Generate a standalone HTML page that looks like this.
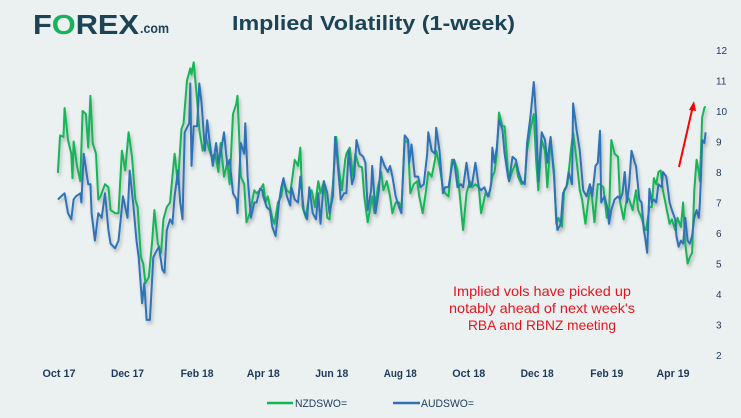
<!DOCTYPE html>
<html><head><meta charset="utf-8">
<style>
html,body{margin:0;padding:0;background:#ebf0f0;}
svg{display:block;font-family:"Liberation Sans",sans-serif;}
</style></head>
<body>
<svg id="chart" width="741" height="418" viewBox="0 0 741 418" xmlns="http://www.w3.org/2000/svg">
<defs>
<filter id="sh" x="-5%" y="-5%" width="110%" height="120%">
<feDropShadow dx="1.5" dy="3" stdDeviation="1.5" flood-color="#000" flood-opacity="0.25"/>
</filter>
</defs>
<rect x="0" y="0" width="741" height="418" fill="#ebf0f0"/>
<g>
<text x="33" y="34" font-size="28" font-weight="bold" fill="#1d4455" textLength="106" lengthAdjust="spacingAndGlyphs">F<tspan fill="#17b35a">O</tspan>REX</text>
<text x="140" y="33" font-size="14" font-weight="bold" fill="#1d4455" textLength="29" lengthAdjust="spacingAndGlyphs">.com</text>
</g>
<text x="232" y="30" font-size="20" font-weight="bold" fill="#1d4455" textLength="283" lengthAdjust="spacingAndGlyphs">Implied Volatility (1-week)</text>
<g id="yaxis"></g>
<g id="xaxis"></g>
<g id="series" filter="url(#sh)"></g>
<g>
<line x1="679" y1="167" x2="692" y2="110" stroke="#ff0000" stroke-width="2"/>
<polygon points="694,101 689,110 696,111" fill="#ff0000"/>
</g>
<g font-size="14" fill="#e8141c" text-anchor="middle">
<text x="542" y="296" textLength="178" lengthAdjust="spacingAndGlyphs">Implied vols have picked up</text>
<text x="542" y="313" textLength="186" lengthAdjust="spacingAndGlyphs">notably ahead of next week's</text>
<text x="542" y="330" textLength="148" lengthAdjust="spacingAndGlyphs">RBA and RBNZ meeting</text>
</g>
<g>
<g>
<line x1="267" y1="403" x2="293" y2="403" stroke="#12b556" stroke-width="2.5"/>
<text x="295" y="407" font-size="11" fill="#1d3a5a" textLength="52" lengthAdjust="spacingAndGlyphs">NZDSWO=</text>
</g>
<g>
<line x1="393" y1="403" x2="420" y2="403" stroke="#2e72b8" stroke-width="2.5"/>
<text x="421" y="407" font-size="11" fill="#1d3a5a" textLength="53" lengthAdjust="spacingAndGlyphs">AUDSWO=</text>
</g>
</g>
</svg>
<script>
const yTicks = [12,11,10,9,8,7,6,5,4,3,2];
const xTickLabels = ["Oct 17","Dec 17","Feb 18","Apr 18","Jun 18","Aug 18","Oct 18","Dec 18","Feb 19","Apr 19"];
const xTickDays = [0,61,123,182,243,304,365,426,488,547];
const nzdDays = [-1,1,4,5,8,11,12,13,16,19,21,24,26,28,30,33,35,37,41,44,46,50,53,56,59,62,65,68,70,73,75,77,80,83,85,88,91,93,96,99,101,103,106,109,111,114,117,118,120,123,125,128,131,134,136,139,142,144,147,150,152,155,158,159,162,165,167,170,174,176,179,182,184,186,190,192,195,198,200,203,206,208,210,213,215,217,220,223,225,228,231,233,236,239,241,244,247,249,252,255,256,259,262,264,267,270,272,275,279,281,284,287,289,292,295,297,300,303,305,308,311,313,316,319,321,324,327,329,332,335,336,339,342,344,347,350,352,355,358,360,363,366,368,371,374,376,380,383,386,388,390,392,395,397,400,401,404,407,409,412,415,417,420,423,425,427,430,433,435,438,441,443,445,448,450,453,456,458,461,464,466,469,472,474,477,480,482,485,488,490,492,495,498,500,503,506,508,511,514,516,519,522,523,526,528,530,532,534,536,538,541,544,546,549,551,554,556,558,560,562,564,566,568,570,571,573,575,576];
const nzdValues = [7.97,9.2,9.15,10.1,9.05,8.6,7.8,9.0,8.2,7.7,10.0,9.9,8.8,10.5,8.95,8.6,7.1,7.2,7.6,7.5,6.75,6.65,6.65,8.7,8.05,9.3,8.5,7.1,6.85,5.2,5.0,4.35,4.55,5.75,6.75,5.65,5.35,6.45,6.85,7.0,7.85,8.6,7.6,9.4,9.6,11.0,11.4,11.2,11.6,10.35,9.4,8.7,9.15,8.7,8.5,8.6,8.0,8.95,7.85,8.3,7.6,9.9,10.25,10.5,7.85,7.6,6.35,6.65,7.4,7.3,7.4,7.6,7.0,7.2,6.5,6.3,7.0,7.2,7.7,7.4,7.3,7.85,8.4,8.2,8.8,6.85,6.5,7.3,7.4,6.85,7.7,7.3,7.7,6.5,6.45,7.6,9.15,8.2,7.4,8.4,8.6,8.8,7.85,8.6,8.2,8.15,7.2,6.35,7.2,6.65,7.5,8.0,7.4,7.7,7.2,6.65,7.0,7.0,6.75,9.05,8.95,7.3,7.6,7.7,7.2,6.65,7.4,8.0,7.85,8.4,8.7,8.2,7.5,7.3,7.2,8.4,8.4,8.05,6.85,6.1,7.3,7.7,7.5,7.6,7.5,6.65,7.3,7.2,7.85,8.0,8.6,9.95,9.5,9.5,8.0,7.7,8.05,8.3,7.85,7.6,7.7,8.7,9.4,9.9,8.4,7.4,9.05,8.7,7.5,9.05,8.05,6.3,6.5,6.2,7.4,7.6,8.7,9.3,8.4,7.4,7.1,6.3,7.2,7.5,6.35,7.6,7.6,7.5,6.5,6.5,9.05,8.6,8.5,7.0,6.45,7.2,7.1,6.75,7.4,6.75,6.5,6.1,6.1,6.85,6.85,7.8,7.6,8.0,8.05,7.4,6.85,6.3,6.45,6.1,6.5,6.2,7.0,5.65,5.0,5.2,5.35,7.4,8.4,8.0,7.7,9.8,10.1,10.15];
const audDays = [-1,2,5,8,11,13,15,19,20,22,26,28,29,32,35,38,41,44,46,50,53,55,57,61,63,66,69,71,74,76,78,81,84,86,89,92,94,96,99,101,103,106,108,110,112,116,117,118,120,123,125,127,130,132,134,137,140,142,144,147,150,152,155,158,159,162,165,166,168,171,174,176,179,181,182,185,188,190,193,196,198,200,203,206,207,210,213,215,218,221,223,226,229,231,233,236,239,241,244,246,248,251,254,256,258,261,263,265,268,271,273,275,278,279,282,285,287,290,293,295,297,300,303,305,308,311,312,314,317,320,322,325,328,329,332,335,336,339,342,344,347,350,352,355,358,360,363,366,368,371,374,376,379,382,384,385,386,388,390,392,395,397,400,401,404,407,409,412,415,417,420,423,425,427,430,433,435,438,441,443,444,447,449,452,454,457,458,461,464,465,467,470,473,475,478,480,482,483,486,489,490,492,495,498,500,502,504,506,508,510,513,514,517,519,521,522,524,526,528,530,532,534,537,538,541,544,546,549,550,552,554,556,558,560,562,564,566,568,570,571,572,573,575,576];
const audValues = [7.1,7.2,7.3,6.65,6.45,7.1,7.2,7.3,7.0,8.6,7.6,7.6,6.65,5.75,6.65,6.5,7.3,6.1,5.65,5.5,5.75,6.45,7.2,6.5,8.05,7.0,5.75,5.2,3.7,4.35,3.15,3.15,5.2,5.35,5.55,4.8,4.7,6.1,6.45,6.3,7.2,8.05,7.0,6.45,9.3,9.6,10.9,8.2,9.5,9.5,10.9,10.25,8.7,9.7,9.05,8.2,8.95,8.3,8.6,9.3,8.2,8.4,7.3,7.1,6.65,8.95,8.6,9.6,7.85,6.5,7.0,7.0,7.45,7.4,7.2,6.85,6.75,6.2,5.9,7.0,7.5,7.8,7.2,6.9,7.5,7.1,7.0,7.85,6.75,6.45,7.5,6.65,6.45,7.3,6.3,7.7,7.3,6.65,7.2,9.15,8.4,7.1,7.3,7.3,8.7,7.6,7.85,9.05,8.6,8.5,8.3,6.75,7.4,8.2,6.65,7.4,8.5,8.2,8.0,8.2,7.85,7.2,6.85,6.65,9.2,9.05,8.3,8.9,7.85,7.85,7.5,7.6,8.6,9.3,8.7,8.6,9.45,8.7,7.3,7.5,7.5,8.2,8.4,7.5,7.6,7.5,8.3,7.5,7.6,8.3,7.5,7.4,7.5,7.2,7.4,7.6,8.8,8.3,8.8,9.7,9.4,8.6,7.85,7.7,8.5,8.4,8.05,7.7,7.6,8.95,9.8,10.95,9.8,7.7,9.3,9.05,8.3,9.15,7.85,6.5,6.1,6.3,7.3,7.5,8.0,7.6,10.25,9.4,8.7,8.25,7.4,7.2,7.6,7.2,8.2,8.3,9.35,7.0,7.2,6.75,6.3,6.75,7.1,7.2,7.1,7.3,8.0,7.0,7.6,8.7,8.3,8.2,7.1,7.0,6.1,5.9,5.35,7.45,7.0,7.1,7.0,7.6,7.5,8.0,7.85,7.0,6.75,6.45,5.9,5.55,5.75,5.65,6.5,5.75,5.65,5.9,6.5,6.75,6.5,7.0,8.0,9.05,8.95,9.3];

const NS = "http://www.w3.org/2000/svg";
function xScale(d){ return 59 + d * (614 / 547); }
function yScale(v){ return 50 + (12 - v) * 30.5; }
function mk(tag, attrs){ const e = document.createElementNS(NS, tag); for (const k in attrs) e.setAttribute(k, attrs[k]); return e; }

const yg = document.getElementById('yaxis');
yTicks.forEach(function(t){
  const tx = mk('text', {x: 716, y: yScale(t) + 4, 'font-size': 10, fill: '#1d3a5a'});
  tx.textContent = String(t);
  
  
  yg.appendChild(tx);
});
const xg = document.getElementById('xaxis');
xTickLabels.forEach(function(lbl, i){
  const tx = mk('text', {x: xScale(xTickDays[i]), y: 377, 'font-size': 11, 'font-weight': 'bold', fill: '#1d3a5a', 'text-anchor': 'middle', textLength: 33, lengthAdjust: 'spacingAndGlyphs'});
  tx.textContent = lbl;
  
  
  xg.appendChild(tx);
});
function linePath(days, vals){
  return days.map(function(d, i){ return (i ? 'L' : 'M') + xScale(d).toFixed(1) + ',' + yScale(vals[i]).toFixed(1); }).join('');
}
const sg = document.getElementById('series');
const pg = mk('path', {d: linePath(nzdDays, nzdValues), fill: 'none', stroke: '#12b556', 'stroke-width': 2, 'stroke-linejoin': 'round'});


sg.appendChild(pg);
const pb = mk('path', {d: linePath(audDays, audValues), fill: 'none', stroke: '#2e72b8', 'stroke-width': 2, 'stroke-linejoin': 'round'});


sg.appendChild(pb);
</script>
</body></html>
